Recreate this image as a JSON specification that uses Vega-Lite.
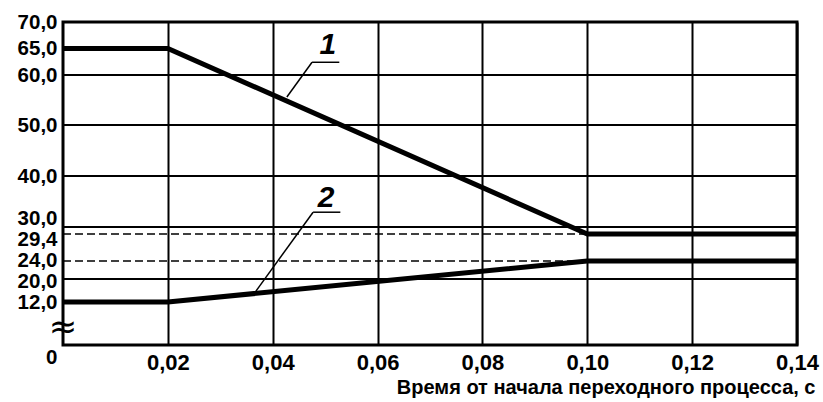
{
  "$schema": "https://vega.github.io/schema/vega-lite/v6.json",
  "width": 734,
  "height": 323,
  "autosize": {"type": "none"},
  "padding": {"left": 63, "top": 22, "right": 26, "bottom": 57},
  "background": "white",
  "config": {
    "view": {"stroke": "black", "strokeWidth": 3},
    "font": "Liberation Sans",
    "axis": {"labelColor": "black", "titleColor": "black", "labelFont": "Liberation Sans", "titleFont": "Liberation Sans", "labelOverlap": false, "labelFontWeight": "bold"}
  },
  "datasets": {
    "series": [
      {"t": 0, "v": 65, "s": "1"},
      {"t": 0.02, "v": 65, "s": "1"},
      {"t": 0.10, "v": 29.4, "s": "1"},
      {"t": 0.14, "v": 29.4, "s": "1"},
      {"t": 0, "v": 12, "s": "2"},
      {"t": 0.02, "v": 12, "s": "2"},
      {"t": 0.10, "v": 24, "s": "2"},
      {"t": 0.14, "v": 24, "s": "2"}
    ],
    "solidGrid": [
      {"y": 20, "xa": 0, "xb": 0.14},
      {"y": 30, "xa": 0, "xb": 0.14},
      {"y": 40, "xa": 0, "xb": 0.14},
      {"y": 50, "xa": 0, "xb": 0.14},
      {"y": 60, "xa": 0, "xb": 0.14}
    ],
    "dashedGrid": [
      {"y": 29.4, "xa": 0, "xb": 0.10},
      {"y": 24, "xa": 0, "xb": 0.10}
    ],
    "leaders": [
      {"xa": 0.0427, "ya": 55.6, "xb": 0.0475, "yb": 62.4},
      {"xa": 0.0475, "ya": 62.4, "xb": 0.0527, "yb": 62.4},
      {"xa": 0.0368, "ya": 15.8, "xb": 0.0477, "yb": 32.9},
      {"xa": 0.0477, "ya": 32.9, "xb": 0.0529, "yb": 32.9}
    ],
    "labels": [
      {"x": 0.0505, "y": 63.9, "text": "1"},
      {"x": 0.0502, "y": 33.9, "text": "2"}
    ],
    "brk": [
      {"x": 0, "y": 4.7, "text": "≈"}
    ]
  },
  "layer": [
    {
      "data": {"name": "solidGrid"},
      "mark": {"type": "rule", "color": "black", "strokeWidth": 2},
      "encoding": {
        "x": {"field": "xa", "type": "quantitative",
          "scale": {"domain": [0, 0.14], "nice": false, "zero": false},
          "axis": {
            "values": [0.02, 0.04, 0.06, 0.08, 0.10, 0.12, 0.14],
            "tickCount": 20,
            "labelExpr": "replace(format(datum.value, '.2f'), '.', ',')",
            "grid": true, "gridColor": "black", "gridWidth": 2, "gridOpacity": 1,
            "domain": false, "ticks": false,
            "labelFontSize": 22, "labelPadding": 7, "labelFlush": false, "labelOverlap": false,
            "title": "Время от начала переходного процесса, с",
            "titleFontSize": 20, "titleFontWeight": "bold",
            "titleAnchor": "end", "titleAlign": "right", "titleBaseline": "alphabetic",
            "titleX": 752, "titleY": 48
          }},
        "x2": {"field": "xb"},
        "y": {"field": "y", "type": "quantitative",
          "scale": {"domain": [0, 12, 20, 24, 29.4, 30, 40, 50, 60, 70], "range": [323, 280, 257, 239, 212, 205, 154, 103, 53, 0]},
          "axis": {
            "values": [0, 12, 20, 24, 29.4, 30, 40, 50, 60, 65, 70],
            "tickCount": 50,
            "labelExpr": "datum.value === 0 ? '0' : replace(format(datum.value, '.1f'), '.', ',')",
            "grid": false, "domain": false, "ticks": false,
            "labelFontSize": 20.5, "labelPadding": 6, "labelOverlap": false, "labelFlush": false, "labelBound": false,
            "labelOffset": {"expr": "datum.value === 30 ? -9 : datum.value === 29.4 ? 5 : datum.value === 24 ? -1 : datum.value === 20 ? 2 : datum.value === 0 ? 12 : 0"},
            "title": null
          }}
      }
    },
    {
      "data": {"name": "dashedGrid"},
      "mark": {"type": "rule", "color": "black", "strokeWidth": 1.5, "strokeDash": [8, 4]},
      "encoding": {
        "x": {"field": "xa", "type": "quantitative"},
        "x2": {"field": "xb"},
        "y": {"field": "y", "type": "quantitative"}
      }
    },
    {
      "data": {"name": "series"},
      "mark": {"type": "line", "color": "black", "strokeWidth": 5, "strokeJoin": "miter", "strokeCap": "butt"},
      "encoding": {
        "x": {"field": "t", "type": "quantitative"},
        "y": {"field": "v", "type": "quantitative"},
        "detail": {"field": "s", "type": "nominal"}
      }
    },
    {
      "data": {"name": "leaders"},
      "mark": {"type": "rule", "color": "black", "strokeWidth": 1.5},
      "encoding": {
        "x": {"field": "xa", "type": "quantitative"},
        "y": {"field": "ya", "type": "quantitative"},
        "x2": {"field": "xb"},
        "y2": {"field": "yb"}
      }
    },
    {
      "data": {"name": "labels"},
      "mark": {"type": "text", "color": "black", "fontSize": 30, "fontStyle": "italic", "fontWeight": "bold", "align": "center", "baseline": "alphabetic", "font": "Liberation Sans"},
      "encoding": {
        "x": {"field": "x", "type": "quantitative"},
        "y": {"field": "y", "type": "quantitative"},
        "text": {"field": "text"}
      }
    },
    {
      "data": {"name": "brk"},
      "mark": {"type": "text", "color": "black", "fontSize": 34, "align": "center", "baseline": "middle", "font": "DejaVu Sans"},
      "encoding": {
        "x": {"field": "x", "type": "quantitative"},
        "y": {"field": "y", "type": "quantitative"},
        "text": {"field": "text"}
      }
    }
  ]
}
